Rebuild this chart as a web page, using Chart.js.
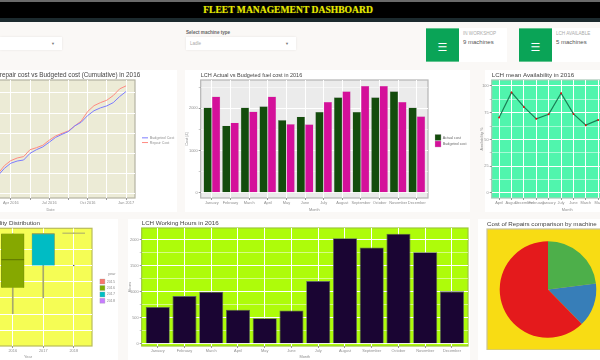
<!DOCTYPE html>
<html>
<head>
<meta charset="utf-8">
<script src="https://cdn.jsdelivr.net/npm/chart.js@4"></script>
<style>
  html, body { margin: 0; padding: 0; }
  body { width: 600px; height: 360px; overflow: hidden; position: relative; background: #faf8f6; font-family: "Liberation Sans", sans-serif; }
  .abs, canvas { position: absolute; }
  .panel { position: absolute; background: #fff; }
  .topline { left: 0; top: 0; width: 600px; height: 1.5px; background: #6a6a6a; }
  .header { left: 0; top: 1.5px; width: 600px; height: 16.5px; background: #000; color: #e6e800; font: bold 9.6px "Liberation Serif", serif; text-align: center; line-height: 16px; padding-right: 24px; box-sizing: border-box; text-shadow: 0 0 1px #6d7d00; }
  .substrip { left: 0; top: 18px; width: 600px; height: 4px; background: #1c2a2e; }
  .select { position: absolute; background: #fff; top: 37px; height: 13px; box-shadow: 0 0 2px #e6e4e0; font-size: 4.5px; line-height: 13px; color: #aaa; }
  .caret { position: absolute; top: 0; right: 7px; color: #777; font-size: 4px; }
  .selectlabel { left: 186px; top: 29.5px; font-size: 4.6px; font-weight: bold; color: #666; }
  .infobox { position: absolute; top: 28px; height: 34px; background: #fff; }
  .infoicon { position: absolute; left: 0; top: 0; width: 33px; height: 34px; background: #0aa457; border-top: 1px solid #62c48f; border-bottom: 1px solid #62c48f; box-sizing: border-box; color: #fff; font: 11px "DejaVu Sans", sans-serif; text-align: center; line-height: 37px; }
  .infotitle { position: absolute; left: 37px; top: 2.5px; font-size: 4.6px; color: #aaa; white-space: nowrap; }
  .infovalue { position: absolute; left: 37px; top: 10.5px; font-size: 6px; color: #555; white-space: nowrap; }
</style>
</head>
<body>
<div class="abs topline"></div>
<div class="abs header">FLEET MANAGEMENT DASHBOARD</div>
<div class="abs substrip"></div>

<div class="select" style="left:0;width:62px"><span class="caret">▼</span></div>
<div class="abs selectlabel">Select machine type</div>
<div class="select" style="left:186px;width:110px;padding-left:4px;box-sizing:border-box">Ladle<span class="caret">▼</span></div>

<div class="infobox" style="left:426px;width:81px">
  <div class="infoicon">☰</div>
  <div class="infotitle">IN WORKSHOP</div>
  <div class="infovalue">9 machines</div>
</div>
<div class="infobox" style="left:519px;width:81px">
  <div class="infoicon">☰</div>
  <div class="infotitle">LCH AVAILABLE</div>
  <div class="infovalue">5 machines</div>
</div>

<div class="panel" style="left:0;top:70px;width:177px;height:142px"></div>
<div class="panel" style="left:185px;top:70px;width:285px;height:142px"></div>
<div class="panel" style="left:485px;top:70px;width:115px;height:142px"></div>
<div class="panel" style="left:0;top:219px;width:118px;height:141px"></div>
<div class="panel" style="left:128px;top:219px;width:342px;height:141px"></div>
<div class="panel" style="left:478px;top:219px;width:122px;height:141px"></div>

<canvas id="cumulativeChart" width="228" height="144" style="left:-50px;top:68px"></canvas>
<canvas id="fuelChart" width="295" height="144" style="left:185px;top:68px"></canvas>
<canvas id="availabilityChart" width="170" height="144" style="left:480px;top:68px"></canvas>
<canvas id="distributionChart" width="170" height="143" style="left:-52px;top:216px"></canvas>
<canvas id="hoursChart" width="342" height="143" style="left:128px;top:216px"></canvas>
<canvas id="repairChart" width="129" height="134" style="left:480px;top:216px"></canvas>

<script>
const MONTHS = ['January', 'February', 'March', 'April', 'May', 'June', 'July', 'August', 'September', 'October', 'November', 'December'];

// cumulative cost, sampled twice a month (months since Jan 2016)
const cumulativeMonths = [0, 0.5, 1, 1.5, 2, 2.5, 3, 3.5, 4, 4.5, 5, 5.5, 6, 6.5, 7, 7.5, 8, 8.5, 9, 9.5, 10, 10.5, 11, 11.5, 12];
const budgetedCumulative = [10, 28, 48, 69, 91, 127, 152, 163, 168, 201, 219, 233, 256, 280, 295, 309, 337, 355, 388, 412, 426, 436, 452, 482, 507];
const repairCumulative = [12, 35, 58, 79, 101, 140, 165, 178, 185, 219, 229, 241, 266, 287, 300, 312, 337, 361, 408, 437, 452, 464, 487, 520, 535];
const cumulativeXGrid = [0, 1.5, 3, 4.5, 6, 7.5, 9, 10.5, 12];
const cumulativeXLabels = { 0: 'Jan 2016', 3: 'Apr 2016', 6: 'Jul 2016', 9: 'Oct 2016', 12: 'Jan 2017' };
const cumulativeYGrid = [0, 100, 200, 300, 400, 500];

const actualFuel = [2016, 1589, 2016, 2047, 1723, 1802, 1913, 2261, 1913, 2261, 2403, 2016];
const budgetedFuel = [2277, 1660, 1921, 2277, 1628, 1621, 2150, 2403, 2530, 2530, 2150, 1810];
const fuelYGrid = [0, 500, 1000, 1500, 2000, 2500];
const fuelYLabels = [0, 1000, 2000];

const availabilityMonths = ['April', 'August', 'December', 'February', 'January', 'July', 'June', 'March', 'May', 'November', 'October', 'September'];
const meanAvailability = [70.5, 94, 80.4, 69.3, 73.6, 93.2, 73.9, 63.4, 68.3];
const availabilityYGrid = [0, 12.5, 25, 37.5, 50, 62.5, 75, 87.5, 100];
const availabilityYLabels = [0, 25, 50, 75, 100];

const legendYears = ['2015', '2016', '2017', '2018'];
const legendColours = ['#f8766d', '#7cae00', '#00bfc4', '#c77cff'];
const boxYears = [2016, 2017, 2018];
const boxQ1 = [66.3, 80, 100];
const boxMedian = [83.6, 99.6, 100];
const boxQ3 = [99.6, 99.6, 100];
const boxWhiskerLow = [50.3, 60, 100];
const boxFill = ['#86a800', '#00bcc4', '#f5fd55'];
const boxLine = ['#5c7400', '#8a9a5a', '#a6a86c'];
const outlierYears = [2018];
const outlierValues = [80];
const distributionYGrid = [40, 50, 60, 70, 80, 90];
const distributionXTicks = [2016, 2017, 2018];

const workingHours = [706, 915, 1000, 654, 490, 641, 1203, 2026, 1850, 2111, 1758, 1007];
const hoursYGrid = [0, 250, 500, 750, 1000, 1250, 1500, 1750, 2000];
const hoursYLabels = [0, 500, 1000, 1500, 2000];

const repairMachines = ['Machine A', 'Machine B', 'Machine C'];
const repairShare = [23, 14.7, 62.3];
const repairColours = ['#4daf4a', '#377eb8', '#e41a1c'];

const AXIS_TEXT = '#8f8f8f';

Chart.defaults.font.family = '"Liberation Sans", sans-serif';
Chart.defaults.font.size = 3.9;
Chart.defaults.color = AXIS_TEXT;
Chart.defaults.animation = false;
Chart.defaults.responsive = false;
Chart.defaults.devicePixelRatio = 1;

// ggplot-style panel: fill behind the plot, frame round it, title over its left edge
const panelFrame = {
  id: 'panelFrame',
  afterLayout(chart, args, opts) {
    const legend = chart.legend;
    if (legend && opts.legendAt) {
      legend.left = opts.legendAt.x;
      legend.right = opts.legendAt.x + legend.width;
      legend.top = opts.legendAt.y;
      legend.bottom = opts.legendAt.y + legend.height;
    }
  },
  beforeDraw(chart, args, opts) {
    const { ctx, chartArea: a } = chart;
    ctx.save();
    ctx.fillStyle = opts.fill;
    ctx.fillRect(a.left, a.top, a.width, a.height);
    ctx.strokeStyle = opts.frame;
    ctx.lineWidth = 1.2;
    ctx.strokeRect(a.left, a.top, a.width, a.height);
    ctx.fillStyle = '#444';
    ctx.font = (opts.titleSize || 6.2) + 'px "Liberation Sans", sans-serif';
    ctx.textBaseline = 'middle';
    ctx.fillText(opts.title, a.left, a.top - 5);
    ctx.restore();
  },
};
Chart.register(panelFrame);

function gridAt(values) {
  return axis => { axis.ticks = values.map(v => ({ value: v })); };
}

function valueAxis(min, max, grid, labels, title, width) {
  return {
    min, max,
    afterBuildTicks: gridAt(grid),
    afterFit: s => { s.width = width; },
    border: { display: false },
    grid: {
      color: '#fff',
      lineWidth: c => (labels.includes(c.tick.value) ? 1 : 0.5),
      tickLength: 2,
      tickColor: '#999',
    },
    ticks: { padding: 1, autoSkip: false, callback: v => (labels.includes(v) ? String(v) : '') },
    title: { display: !!title, text: title, padding: 0 },
  };
}

// discrete axis laid out like ggplot: 0.6 of a step either side of the first and last category
function monthAxis(labels, height) {
  return {
    type: 'linear',
    offset: false,
    min: 0.4,
    max: labels.length + 0.6,
    afterBuildTicks: gridAt(labels.map((l, i) => i + 1)),
    afterFit: s => { s.height = height; },
    border: { display: false },
    grid: { offset: false, color: '#fff', lineWidth: 1, tickLength: 2, tickColor: '#999' },
    ticks: { padding: 1, autoSkip: false, maxRotation: 0, minRotation: 0, callback: v => labels[v - 1] },
    title: { display: true, text: 'Month', padding: 0 },
  };
}

const atMonth = values => values.map((y, i) => ({ x: i + 1, y }));

new Chart(document.getElementById('cumulativeChart'), {
  type: 'line',
  data: {
    datasets: [
      { label: 'Budgeted Cost', data: cumulativeMonths.map((x, i) => ({ x, y: budgetedCumulative[i] })), borderColor: '#7c7cff', borderWidth: 1, pointRadius: 0, tension: 0 },
      { label: 'Repair Cost', data: cumulativeMonths.map((x, i) => ({ x, y: repairCumulative[i] })), borderColor: '#ff8a82', borderWidth: 1, pointRadius: 0, tension: 0 },
    ],
  },
  options: {
    layout: { padding: { top: 12, right: 43 } },
    plugins: {
      panelFrame: { fill: '#ecebd6', frame: '#b4b3a2', title: 'LCH Actual repair cost vs Budgeted cost (Cumulative) in 2016', titleSize: 6.35, legendAt: { x: 191, y: 67 } },
      legend: { position: 'chartArea', align: 'start', labels: { usePointStyle: true, pointStyle: 'line', pointStyleWidth: 6, boxHeight: 5, padding: 1, font: { size: 3.7 } } },
    },
    scales: {
      x: {
        type: 'linear',
        min: -0.5,
        max: 12.7,
        afterBuildTicks: gridAt(cumulativeXGrid),
        afterFit: s => { s.height = 14; },
        border: { display: false },
        grid: { color: '#fff', lineWidth: 1, tickLength: 2, tickColor: '#999' },
        ticks: { padding: 1, autoSkip: false, maxRotation: 0, minRotation: 0, callback: v => cumulativeXLabels[v] || '' },
        title: { display: true, text: 'Date', padding: 0 },
      },
      y: valueAxis(-20, 564, cumulativeYGrid, cumulativeYGrid, 'Cost', 16),
    },
  },
});

new Chart(document.getElementById('fuelChart'), {
  type: 'bar',
  data: {
    datasets: [
      { label: 'Actual cost', data: atMonth(actualFuel), backgroundColor: '#134c0c', borderColor: '#9a9a9a', borderWidth: 0.4 },
      { label: 'Budgeted cost', data: atMonth(budgetedFuel), backgroundColor: '#d4109a', borderColor: '#c9a0bc', borderWidth: 0.4 },
    ],
  },
  options: {
    layout: { padding: { top: 12, right: 52 } },
    datasets: { bar: { categoryPercentage: 0.9, barPercentage: 1 } },
    plugins: {
      panelFrame: { fill: '#ebebeb', frame: '#b5b5b5', title: 'LCH Actual vs Budgeted fuel cost in 2016', titleSize: 5.5, legendAt: { x: 249.5, y: 66 } },
      legend: { position: 'chartArea', align: 'start', labels: { boxWidth: 6, boxHeight: 6, padding: 0.5, color: '#666', font: { size: 3.7 } } },
    },
    scales: {
      x: monthAxis(MONTHS, 14),
      y: valueAxis(-125, 2670, fuelYGrid, fuelYLabels, 'Cost [£]', 15.7),
    },
  },
});

new Chart(document.getElementById('availabilityChart'), {
  type: 'line',
  data: {
    datasets: [{
      label: 'Availability',
      data: atMonth(meanAvailability),
      borderColor: '#1a7f55',
      borderWidth: 1.2,
      tension: 0,
      pointRadius: 1,
      pointBorderWidth: 0,
      pointBackgroundColor: '#e01010',
    }],
  },
  options: {
    layout: { padding: { top: 12, right: 7.2 } },
    plugins: {
      panelFrame: { fill: '#50f5ad', frame: '#a8c8b8', title: 'LCH mean Availability in 2016' },
      legend: { display: false },
    },
    scales: {
      x: monthAxis(availabilityMonths, 14),
      y: valueAxis(-4.7, 105.6, availabilityYGrid, availabilityYLabels, 'Availability %', 11.7),
    },
  },
});

new Chart(document.getElementById('distributionChart'), {
  data: {
    datasets: [
      {
        type: 'line',
        label: 'Median',
        data: boxYears.map((x, i) => ({ x, y: boxMedian[i] })),
        showLine: false,
        pointStyle: 'line',
        pointRadius: 11.3,
        pointBorderWidth: 1,
        pointBorderColor: boxLine,
        order: 0,
      },
      {
        type: 'line',
        label: 'Outliers',
        data: outlierYears.map((x, i) => ({ x, y: outlierValues[i] })),
        showLine: false,
        pointRadius: 0.8,
        pointBorderWidth: 0,
        pointBackgroundColor: '#555',
        order: 0,
      },
      {
        type: 'bar',
        label: 'Box',
        data: boxYears.map((x, i) => ({ x, y: [boxQ1[i], boxQ3[i]] })),
        grouped: false,
        barThickness: 22.6,
        backgroundColor: boxFill,
        borderColor: boxLine,
        borderWidth: 0.6,
        order: 1,
      },
      {
        type: 'bar',
        label: 'Whisker',
        data: boxYears.map((x, i) => ({ x, y: [boxWhiskerLow[i], boxQ3[i]] })),
        grouped: false,
        barThickness: 1,
        backgroundColor: '#a6a86c',
        order: 2,
      },
    ],
  },
  options: {
    layout: { padding: { top: 12, right: 26 } },
    plugins: {
      panelFrame: { fill: '#f5fd55', frame: '#b9bc5a', title: 'LCH Availability Distribution', legendAt: { x: 150.5, y: 55 } },
      legend: {
        position: 'chartArea',
        align: 'start',
        title: { display: true, text: 'year', padding: 1, font: { size: 3.9 } },
        labels: {
          boxWidth: 5,
          boxHeight: 5,
          padding: 1.4,
          font: { size: 3.7 },
          generateLabels: () => legendYears.map((text, i) => ({ text, fillStyle: legendColours[i], strokeStyle: '#999', lineWidth: 0.3, fontColor: AXIS_TEXT })),
        },
      },
    },
    scales: {
      x: {
        type: 'linear',
        offset: false,
        min: 2014.4,
        max: 2018.6,
        afterBuildTicks: gridAt(distributionXTicks),
        afterFit: s => { s.height = 13; },
        border: { display: false },
        grid: { offset: false, color: '#fff', lineWidth: 1, tickLength: 2, tickColor: '#999' },
        ticks: { padding: 1, autoSkip: false, maxRotation: 0, minRotation: 0, callback: v => String(v) },
        title: { display: true, text: 'Year', padding: 0 },
      },
      y: valueAxis(30.3, 103, distributionYGrid, distributionYGrid, 'Availability', 16),
    },
  },
});

new Chart(document.getElementById('hoursChart'), {
  type: 'bar',
  data: {
    datasets: [{
      label: 'Hours',
      data: atMonth(workingHours),
      backgroundColor: '#1a0533',
      borderColor: '#5c6660',
      borderWidth: 0.8,
      categoryPercentage: 1,
      barPercentage: 0.9,
    }],
  },
  options: {
    layout: { padding: { top: 12, right: 2 } },
    plugins: {
      panelFrame: { fill: '#aefc0a', frame: '#9cc83a', title: 'LCH Working Hours in 2016' },
      legend: { display: false },
    },
    scales: {
      x: monthAxis(MONTHS, 13),
      y: valueAxis(-42, 2222, hoursYGrid, hoursYLabels, 'Hours', 13.7),
    },
  },
});

new Chart(document.getElementById('repairChart'), {
  type: 'pie',
  data: {
    labels: repairMachines,
    datasets: [{ data: repairShare, backgroundColor: repairColours, borderWidth: 0 }],
  },
  options: {
    radius: 48.3,
    layout: { padding: { top: 13, left: 7 } },
    plugins: {
      panelFrame: { fill: '#f8dc14', frame: '#c9c39a', title: 'Cost of Repairs comparison by machine' },
      legend: { display: false },
    },
  },
});
</script>
</body>
</html>
